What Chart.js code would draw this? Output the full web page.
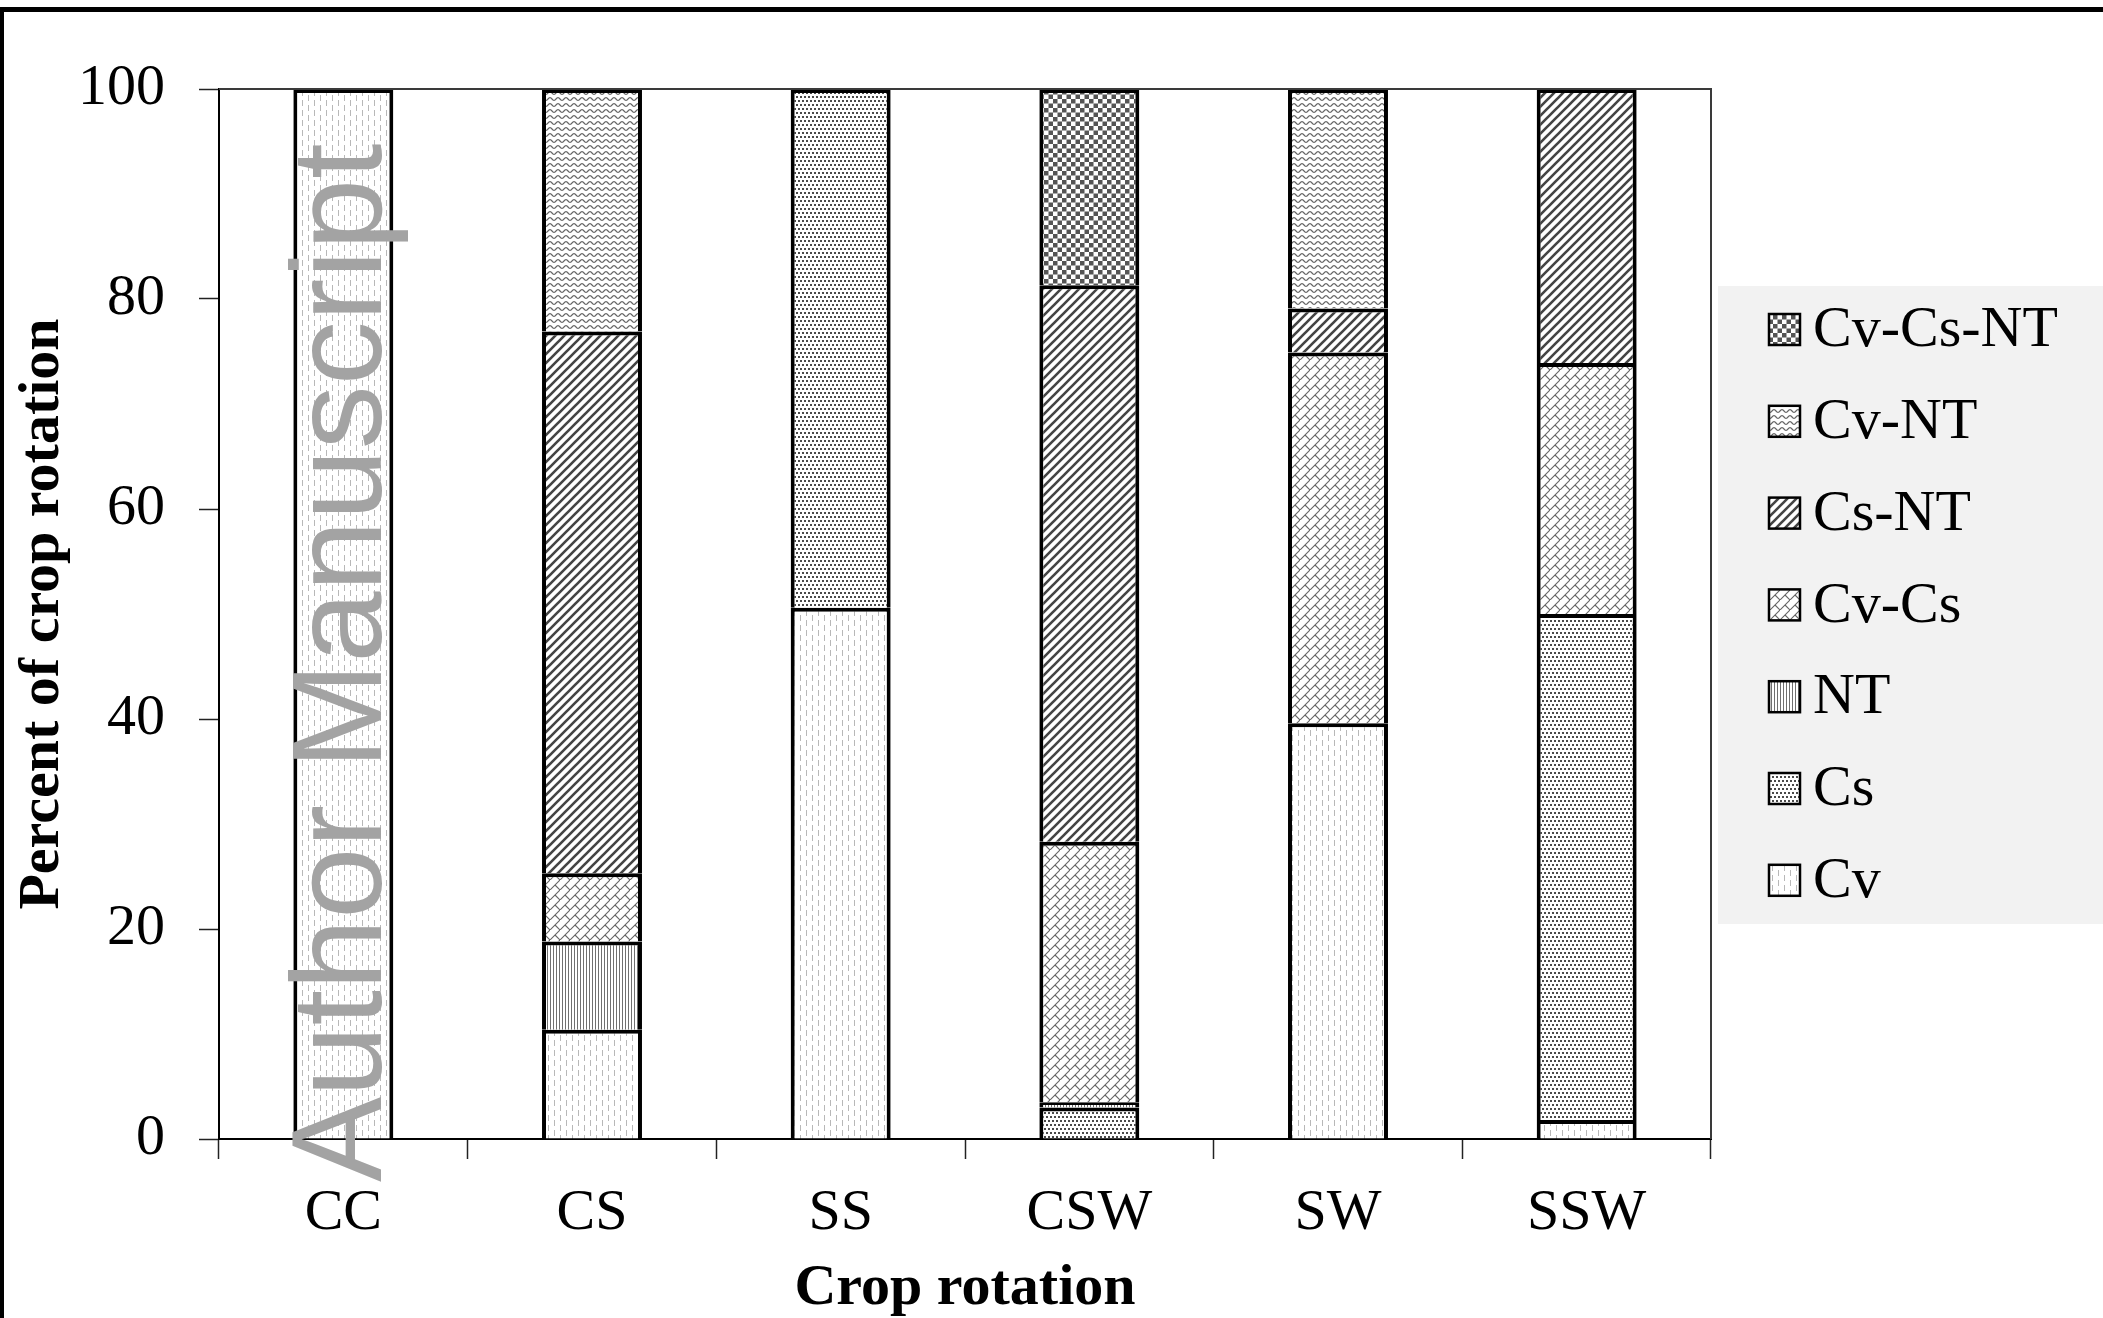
<!DOCTYPE html>
<html>
<head>
<meta charset="utf-8">
<title>Percent of crop rotation</title>
<script src="https://cdn.jsdelivr.net/npm/chart.js@4.4.1/dist/chart.umd.min.js"></script>
<style>
  html, body { margin: 0; padding: 0; background: #fff; }
  canvas { display: block; }
</style>
</head>
<body>
<canvas id="chart" width="2103" height="1318"></canvas>
<script>
// Crop rotations on the x axis
const rotations = ["CC", "CS", "SS", "CSW", "SW", "SSW"];

// Percent of each rotation, stacked bottom to top
const cvValues = [100, 10.4, 50.6, 0, 39.6, 1.8];
const csValues = [0, 0, 49.4, 3.0, 0, 48.2];
const ntValues = [0, 8.4, 0, 0.5, 0, 0];
const cvCsValues = [0, 6.5, 0, 24.8, 35.3, 23.9];
const csNtValues = [0, 51.6, 0, 53.0, 4.2, 26.1];
const cvNtValues = [0, 23.1, 0, 0, 20.9, 0];
const cvCsNtValues = [0, 0, 0, 18.7, 0, 0];

const yTicks = [0, 20, 40, 60, 80, 100];

const SERIF = '"Liberation Serif", "Times New Roman", serif';
const canvas = document.getElementById("chart");
const ctx = canvas.getContext("2d");

// Build a repeating fill from a small tile
function makePattern(w, h, paint) {
  const tile = document.createElement("canvas");
  tile.width = w;
  tile.height = h;
  const g = tile.getContext("2d");
  g.fillStyle = "#fff";
  g.fillRect(0, 0, w, h);
  paint(g, w, h);
  return ctx.createPattern(tile, "repeat");
}

const patterns = {
  // light broken vertical dashes
  cv: makePattern(12, 10, (g) => {
    g.fillStyle = "#b8b8b8";
    g.fillRect(2, 0, 1, 6);
    g.fillRect(8, 5, 1, 5);
    g.fillRect(8, 0, 1, 1);
  }),
  // small dark dots
  cs: makePattern(8, 8, (g) => {
    g.fillStyle = "#4a4a4a";
    g.fillRect(0, 0, 2, 2);
    g.fillRect(4, 0, 2, 2);
    g.fillRect(2, 4, 2, 2);
    g.fillRect(6, 4, 2, 2);
  }),
  // narrow vertical lines
  nt: makePattern(3, 3, (g) => {
    g.fillStyle = "#707070";
    g.fillRect(1, 0, 1, 3);
  }),
  // diagonal brick
  cvCs: makePattern(10, 10, (g) => {
    g.strokeStyle = "#666";
    g.lineWidth = 1.1;
    g.beginPath();
    g.moveTo(-1, 11); g.lineTo(11, -1);
    g.moveTo(5, 5); g.lineTo(11, 11);
    g.stroke();
  }),
  // wide upward diagonal
  csNt: makePattern(9, 9, (g) => {
    g.strokeStyle = "#444";
    g.lineWidth = 2.6;
    g.beginPath();
    g.moveTo(-1, 10); g.lineTo(10, -1);
    g.moveTo(-2, 2); g.lineTo(2, -2);
    g.moveTo(7, 11); g.lineTo(11, 7);
    g.stroke();
  }),
  // wavy horizontal lines
  cvNt: makePattern(8, 6, (g) => {
    g.strokeStyle = "#666";
    g.lineWidth = 1.2;
    g.beginPath();
    for (let x = -1; x <= 9; x += 0.5) {
      const y = 3 + 1.4 * Math.sin((2 * Math.PI * x) / 8);
      if (x === -1) g.moveTo(x, y); else g.lineTo(x, y);
    }
    g.stroke();
  }),
  // small checkerboard
  cvCsNt: makePattern(9, 9, (g) => {
    g.fillStyle = "#555";
    g.fillRect(0, 0, 4.5, 4.5);
    g.fillRect(4.5, 4.5, 4.5, 4.5);
  }),
};

function series(label, data, fill) {
  return {
    label,
    data,
    backgroundColor: fill,
    borderColor: "#000",
    borderWidth: 4,
    borderSkipped: "start",
    barPercentage: 0.402,
    categoryPercentage: 1.0,
  };
}

const datasets = [
  series("Cv", cvValues, patterns.cv),
  series("Cs", csValues, patterns.cs),
  series("NT", ntValues, patterns.nt),
  series("Cv-Cs", cvCsValues, patterns.cvCs),
  series("Cs-NT", csNtValues, patterns.csNt),
  series("Cv-NT", cvNtValues, patterns.cvNt),
  series("Cv-Cs-NT", cvCsNtValues, patterns.cvCsNt),
];

// Frame, plot box, legend panel and the vertical stamp text
const decorations = {
  id: "decorations",
  afterDraw(chart) {
    const c = chart.ctx;
    const a = chart.chartArea;
    c.save();

    // plot box top and right edges
    c.strokeStyle = "#3a3a3a";
    c.lineWidth = 2;
    c.beginPath();
    c.moveTo(a.left, a.top);
    c.lineTo(a.right, a.top);
    c.lineTo(a.right, a.bottom);
    c.stroke();

    // legend panel, top entry is the last stacked series
    const panel = { x: 1718, y: 286, w: 2103 - 1718, h: 638 };
    c.fillStyle = "#f2f2f2";
    c.fillRect(panel.x, panel.y, panel.w, panel.h);
    const items = chart.data.datasets.slice().reverse();
    c.font = "58px " + SERIF;
    c.textBaseline = "middle";
    c.textAlign = "left";
    items.forEach((ds, i) => {
      const yc = 329 + i * 91.8;
      c.fillStyle = ds.backgroundColor;
      c.fillRect(1769, yc - 15, 31, 31);
      c.strokeStyle = "#000";
      c.lineWidth = 2.5;
      c.strokeRect(1769, yc - 15, 31, 31);
      c.fillStyle = "#000";
      c.fillText(ds.label, 1813, yc + 2);
    });

    // outer frame (top and left)
    c.fillStyle = "#000";
    c.fillRect(0, 7, chart.width, 5);
    c.fillRect(0, 7, 4, chart.height);

    // stamp text running up the left side
    c.translate(381, 1182);
    c.rotate(-Math.PI / 2);
    c.font = '128px "Liberation Sans", Arial, sans-serif';
    c.fillStyle = "#a3a3a3";
    c.textBaseline = "alphabetic";
    c.fillText("Author Manuscript", 0, 0);
    c.restore();
  },
};

new Chart(ctx, {
  type: "bar",
  data: { labels: rotations, datasets },
  plugins: [decorations],
  options: {
    responsive: false,
    animation: false,
    devicePixelRatio: 1,
    layout: { padding: { top: 89, right: 392, bottom: 0, left: 0 } },
    plugins: {
      legend: { display: false },
      tooltip: { enabled: false },
    },
    scales: {
      x: {
        stacked: true,
        afterFit: (scale) => { scale.height = 179; },
        grid: {
          offset: true,
          drawOnChartArea: false,
          drawTicks: true,
          tickLength: 20,
          tickColor: "#222",
          tickWidth: 1.5,
        },
        border: { color: "#000", width: 2 },
        ticks: {
          color: "#000",
          padding: 20,
          font: { family: SERIF, size: 58 },
        },
        title: {
          display: true,
          text: "Crop rotation",
          color: "#000",
          padding: { top: 0, bottom: -6 },
          font: { family: SERIF, size: 58, weight: "bold" },
        },
      },
      y: {
        stacked: true,
        min: 0,
        max: 100,
        afterFit: (scale) => { scale.width = 219; },
        afterBuildTicks: (scale) => {
          scale.ticks = yTicks.map((v) => ({ value: v }));
        },
        grid: {
          drawOnChartArea: false,
          drawTicks: true,
          tickLength: 20,
          tickColor: "#222",
          tickWidth: 1.5,
        },
        border: { color: "#000", width: 2 },
        ticks: {
          color: "#000",
          padding: 34,
          font: { family: SERIF, size: 58 },
        },
        title: {
          display: true,
          text: "Percent of crop rotation",
          color: "#000",
          padding: { top: 8, bottom: 0 },
          font: { family: SERIF, size: 58, weight: "bold" },
        },
      },
    },
  },
});
</script>
</body>
</html>
